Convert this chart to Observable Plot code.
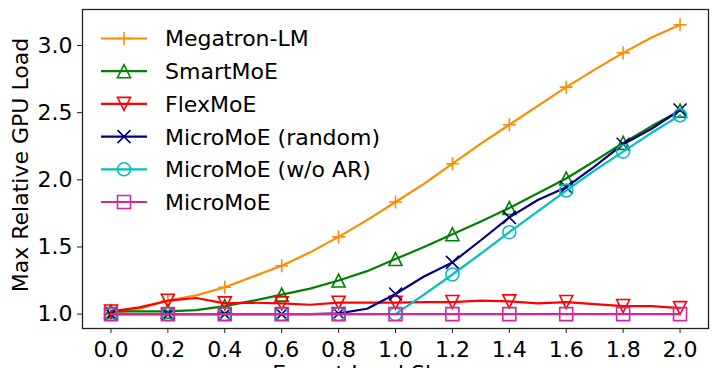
<!DOCTYPE html>
<html>
<head>
<meta charset="utf-8">
<script src="https://cdn.jsdelivr.net/npm/d3@7"></script>
<script src="https://cdn.jsdelivr.net/npm/@observablehq/plot@0.6"></script>
<style>
  html, body { margin: 0; padding: 0; background: #fff; overflow: hidden; }
  #chart svg { overflow: visible; }
</style>
</head>
<body>
<div id="chart"></div>
<script>
// ---- data ----
const xValues = [0.0, 0.1, 0.2, 0.3, 0.4, 0.5, 0.6, 0.7, 0.8, 0.9, 1.0, 1.1, 1.2, 1.3, 1.4, 1.5, 1.6, 1.7, 1.8, 1.9, 2.0];
const megatronLM = [1.00, 1.04, 1.10, 1.14, 1.20, 1.28, 1.36, 1.46, 1.575, 1.70, 1.835, 1.97, 2.12, 2.27, 2.41, 2.55, 2.69, 2.82, 2.945, 3.06, 3.155];
const smartMoE   = [1.02, 1.02, 1.02, 1.03, 1.06, 1.10, 1.145, 1.19, 1.25, 1.32, 1.41, 1.50, 1.595, 1.69, 1.79, 1.90, 2.01, 2.14, 2.275, 2.40, 2.515];
const flexMoE    = [1.02, 1.05, 1.10, 1.12, 1.08, 1.085, 1.08, 1.07, 1.085, 1.085, 1.085, 1.09, 1.09, 1.10, 1.095, 1.08, 1.09, 1.075, 1.06, 1.06, 1.045];
const microRandom= [1.00, 1.00, 1.00, 1.00, 1.00, 1.00, 1.00, 1.00, 1.005, 1.04, 1.15, 1.28, 1.385, 1.55, 1.72, 1.85, 1.945, 2.10, 2.265, 2.38, 2.52];
const microNoAR  = [1.00, 1.00, 1.00, 1.00, 1.00, 1.00, 1.00, 1.00, 1.00, 1.00, 1.00, 1.145, 1.295, 1.45, 1.61, 1.765, 1.92, 2.07, 2.21, 2.35, 2.48];
const microMoE   = [1.00, 1.00, 1.00, 1.00, 1.00, 1.00, 1.00, 1.00, 1.00, 1.00, 1.00, 1.00, 1.00, 1.00, 1.00, 1.00, 1.00, 1.00, 1.00, 1.00, 1.00];

const seriesNames  = ["Megatron-LM", "SmartMoE", "FlexMoE", "MicroMoE (random)", "MicroMoE (w/o AR)", "MicroMoE"];
const seriesValues = [megatronLM, smartMoE, flexMoE, microRandom, microNoAR, microMoE];
const seriesColors = ["#ff8c00", "#008000", "#ff0000", "#000080", "#00bfbf", "#d4269e"];
const seriesMarkers = ["plus", "triangleUp", "triangleDown", "cross", "circle", "square"];

const xTicks = [0.0, 0.2, 0.4, 0.6, 0.8, 1.0, 1.2, 1.4, 1.6, 1.8, 2.0];
const yTicks = [1.0, 1.5, 2.0, 2.5, 3.0];
const xLabel = "Expert Load Skewness";
const yLabel = "Max Relative GPU Load";

// ---- marker shapes (matplotlib-like, size = half extent) ----
const H = 6.5;
function drawMarker(ctx, kind, h) {
  switch (kind) {
    case "plus":
      ctx.moveTo(-h, 0); ctx.lineTo(h, 0); ctx.moveTo(0, -h); ctx.lineTo(0, h); break;
    case "cross":
      ctx.moveTo(-h, -h); ctx.lineTo(h, h); ctx.moveTo(-h, h); ctx.lineTo(h, -h); break;
    case "triangleUp":
      ctx.moveTo(0, -h); ctx.lineTo(-h, h); ctx.lineTo(h, h); ctx.closePath(); break;
    case "triangleDown":
      ctx.moveTo(0, h); ctx.lineTo(-h, -h); ctx.lineTo(h, -h); ctx.closePath(); break;
    case "circle":
      ctx.moveTo(h, 0); ctx.arc(0, 0, h, 0, 2 * Math.PI); ctx.closePath(); break;
    case "square":
      ctx.rect(-h, -h, 2 * h, 2 * h); break;
  }
}
const symbolOf = kind => ({ draw(ctx, size) { drawMarker(ctx, kind, Math.sqrt(size / Math.PI)); } });

// ---- table ----
const rows = [];
seriesNames.forEach((name, s) => {
  xValues.forEach((x, i) => rows.push({ series: name, s, x, y: seriesValues[s][i], i }));
});

const marks = [];
seriesNames.forEach((name, s) => {
  const data = rows.filter(d => d.s === s);
  marks.push(Plot.line(data, { x: "x", y: "y", stroke: seriesColors[s], strokeWidth: 2.2 }));
  marks.push(Plot.dot(data.filter(d => d.i % 2 === 0), {
    x: "x", y: "y", r: H, symbol: symbolOf(seriesMarkers[s]),
    fill: "none", stroke: seriesColors[s], strokeWidth: 1.6
  }));
});

const chart = Plot.plot({
  width: 718,
  height: 368,
  marginLeft: 82,
  marginRight: 10,
  marginTop: 9,
  marginBottom: 40,
  style: { fontFamily: "DejaVu Sans", fontSize: "22px", background: "#fff", color: "#000" },
  x: { domain: [-0.1, 2.1] },
  y: { domain: [0.893, 3.268] },
  marks: [
    ...marks,
    Plot.frame({ stroke: "#222", strokeWidth: 1.3 }),
    Plot.axisX({ ticks: xTicks, tickFormat: d => d.toFixed(1), tickSize: 5, tickPadding: 8,
                 label: xLabel, labelAnchor: "center", labelArrow: "none", labelOffset: 52, stroke: "#222" }),
    Plot.axisY({ ticks: yTicks, tickFormat: d => d.toFixed(1), tickSize: 5, tickPadding: 5,
                 label: null, stroke: "#222" })
  ]
});
document.getElementById("chart").appendChild(chart);

// ---- y label and legend ----
const svg = d3.select(chart);
svg.append("text")
  .attr("transform", "translate(28,165) rotate(-90)")
  .attr("text-anchor", "middle")
  .attr("font-family", "DejaVu Sans")
  .attr("font-size", 22)
  .attr("fill", "#000")
  .text(yLabel);

const legend = svg.append("g").attr("transform", "translate(101,38.5)");
seriesNames.forEach((name, s) => {
  const g = legend.append("g").attr("transform", `translate(0,${s * 32.7})`);
  g.append("line").attr("x1", 0).attr("x2", 46).attr("y1", 0).attr("y2", 0)
    .attr("stroke", seriesColors[s]).attr("stroke-width", 2.2);
  const p = d3.path();
  drawMarker(p, seriesMarkers[s], H);
  g.append("path").attr("transform", "translate(23,0)").attr("d", p.toString())
    .attr("fill", "none").attr("stroke", seriesColors[s]).attr("stroke-width", 1.6);
  g.append("text").attr("x", 64).attr("y", 0).attr("dy", "0.36em")
    .attr("text-anchor", "start")
    .attr("font-family", "DejaVu Sans").attr("font-size", 22).attr("fill", "#000")
    .text(name);
});
</script>
</body>
</html>
